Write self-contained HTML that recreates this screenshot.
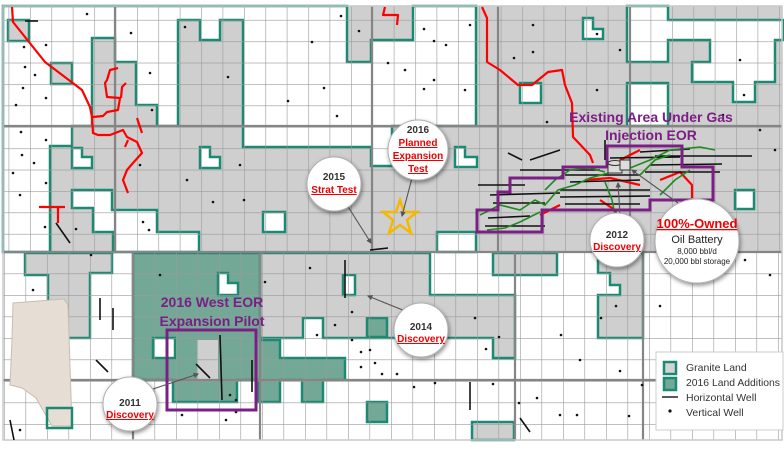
<!DOCTYPE html>
<html><head><meta charset="utf-8">
<style>
html,body{margin:0;padding:0;background:#fff;}
svg{display:block;}
text{font-family:"Liberation Sans",sans-serif;}
</style></head><body>
<svg width="784" height="457" viewBox="0 0 784 457" xmlns="http://www.w3.org/2000/svg">
<defs>
<pattern id="gt" x="8.6" y="-1.5" width="21.4" height="21.4" patternUnits="userSpaceOnUse">
<path d="M0 0V21.4M0 0H21.4" stroke="#9a9a9a" stroke-width="1.2" fill="none"/></pattern>
<pattern id="gb" x="4" y="252" width="21.5" height="21.5" patternUnits="userSpaceOnUse">
<path d="M0 0V21.5M0 0H21.5" stroke="#9a9a9a" stroke-width="1.2" fill="none"/></pattern>
<filter id="sh" x="-30%" y="-30%" width="160%" height="160%"><feDropShadow dx="1" dy="2" stdDeviation="2" flood-color="#000" flood-opacity="0.45"/></filter>
<marker id="ar" viewBox="0 0 10 10" refX="8" refY="5" markerWidth="5" markerHeight="5" orient="auto"><path d="M0 0L10 5L0 10z" fill="#555"/></marker>
</defs>
<rect width="784" height="457" fill="#fff"/>
<rect x="3" y="6" width="779" height="246" fill="#cfcfcf"/>
<g fill="#fff" stroke="#1c8a72" stroke-width="2.5" stroke-linejoin="miter">
<polygon points="3,6 347,6 347,62 371,62 371,40 413,40 413,6 476,6 476,126 392,126 392,166 371,166 371,147 243,147 243,20 220,20 220,40 200,40 200,20 178,20 178,126 157,126 157,105 136,105 136,62 115,62 115,38 92,38 92,126 72,126 72,146 50,146 50,252 3,252"/>
<polygon points="72,148 82,148 82,157 92,157 92,168 72,168"/>
<polygon points="200,147 210,147 210,157 220,157 220,168 200,168"/>
<polygon points="72,190 112,190 112,210 157,210 157,232 199,232 199,252 113,252 113,232 93,232 93,208 72,208"/>
<rect x="263" y="212" width="22" height="20"/>
<polygon points="455,147 465,147 465,157 477,157 477,167 455,167"/>
<rect x="437" y="232" width="39" height="20"/>
<polygon points="583,18 593,18 593,29 603,29 603,39 583,39"/>
<rect x="520" y="83" width="21" height="20"/>
<polygon points="627,6 668,6 668,20 784,20 784,40 775,40 775,82 755,82 755,102 733,102 733,82 692,82 692,62 710,62 710,40 668,40 668,62 627,62"/>
<rect x="627" y="83" width="41" height="43"/>
<rect x="735" y="190" width="19" height="19"/>
</g>
<g fill="#cfcfcf" stroke="#1c8a72" stroke-width="2.5">
<rect x="8" y="20" width="21" height="21"/>
<rect x="51" y="63" width="21" height="21"/>
</g>
<g fill="#cfcfcf" stroke="#1c8a72" stroke-width="2.5">
<polygon points="25,253 112,253 112,273 90,273 90,338 48,338 48,275 25,275"/>
<polygon points="260,253 430,253 430,295 515,295 515,358 493,358 493,338 323,338 323,318 303,318 303,338 260,338"/>
<rect x="493" y="253" width="64" height="22"/>
<polygon points="598,253 643,253 643,338 598,338 598,295 620,295 620,285 610,285 610,273 598,273"/>
<rect x="472" y="422" width="42" height="18"/>
</g>
<rect x="343" y="275" width="12" height="20" fill="#fff" stroke="#1c8a72" stroke-width="2.5"/>
<g fill="#74a896" stroke="#1c8a72" stroke-width="2.5">
<polygon points="133,253 260,253 260,340 280,340 280,358 345,358 345,380 323,380 323,402 302,402 302,380 280,380 280,402 258,402 258,380 237,380 237,402 173,402 173,380 133,380"/>
<rect x="367" y="318" width="20" height="19"/>
<rect x="367" y="402" width="20" height="20"/>
</g>
<polygon points="218,273 228,273 228,283 238,283 238,295 218,295" fill="#fff" stroke="#1c8a72" stroke-width="2.5"/>
<rect x="153" y="338" width="22" height="20" fill="#fff" stroke="#1c8a72" stroke-width="2.5"/>
<rect x="197" y="340" width="21" height="40" fill="#cfcfcf"/>
<rect x="3" y="6" width="779" height="246" fill="url(#gt)"/>
<rect x="3" y="252" width="779" height="188" fill="url(#gb)"/>
<g stroke="#858585" stroke-width="2.2">
<line x1="3" y1="126" x2="782" y2="126"/><line x1="3" y1="252" x2="782" y2="252"/>
<line x1="115" y1="6" x2="115" y2="252"/><line x1="372" y1="6" x2="372" y2="252"/><line x1="498" y1="6" x2="498" y2="252"/><line x1="630" y1="6" x2="630" y2="252"/>
<line x1="3" y1="380" x2="782" y2="380"/><line x1="133" y1="252" x2="133" y2="440"/><line x1="260" y1="252" x2="260" y2="440"/><line x1="515" y1="252" x2="515" y2="440"/><line x1="643" y1="252" x2="643" y2="440"/>
</g>
<rect x="3" y="6" width="779" height="434" fill="none" stroke="#c8c8c8" stroke-width="1.5"/>
<polygon points="13,303 64,299 68,305 72,426 52,426 36,398 22,388 10,385 12,340" fill="#e6ddd5" stroke="#c9bcb0" stroke-width="1"/>
<rect x="47" y="408" width="25" height="20" fill="none" stroke="#1c8a72" stroke-width="2.5"/>
<g fill="none" stroke="#f00" stroke-width="2.2" stroke-linejoin="round">
<polyline points="12,7 13,22 45,62 82,90 90,107 92,117 93,133 98,135 110,135 123,130 127,137 137,142 142,153 133,163 127,170 123,180 128,193"/>
<polyline points="93,117 103,116 107,112 118,110 120,98 107,97 105,83 107,80 110,70 118,68"/>
<polyline points="121,98 122,87 126,83"/>
<polyline points="137,118 142,133"/>
<polyline points="128,140 125,147"/>
<polyline points="39,207 65,207"/><polyline points="58,207 58,223"/>
<polyline points="385,7 383,15 398,15 397,25"/>
<polyline points="482,7 487,18 487,62 500,70 518,85 532,85 548,72 562,70 565,85 572,103 573,137 590,155 593,163"/>
<polyline points="585,180 610,178 640,185"/><polyline points="600,200 615,210 620,225"/>
<polyline points="660,180 680,172 692,185 692,198"/><polyline points="540,215 560,205"/><polyline points="620,160 640,150"/>
<polyline points="625,215 630,240"/>
</g>
<g stroke="#111" stroke-width="1.6" fill="none">
<line x1="56" y1="223" x2="70" y2="243"/>
<line x1="25" y1="21" x2="38" y2="21"/>
<line x1="478" y1="185" x2="525" y2="185"/><line x1="490" y1="195" x2="560" y2="193"/><line x1="493" y1="203" x2="545" y2="203"/>
<line x1="488" y1="218" x2="530" y2="216"/><line x1="485" y1="226" x2="545" y2="226"/>
<line x1="520" y1="170" x2="600" y2="170"/><line x1="565" y1="175" x2="640" y2="175"/><line x1="570" y1="182" x2="640" y2="180"/>
<line x1="560" y1="190" x2="650" y2="190"/><line x1="560" y1="197" x2="650" y2="196"/><line x1="565" y1="204" x2="640" y2="204"/>
<line x1="610" y1="158" x2="680" y2="157"/><line x1="640" y1="152" x2="690" y2="149"/><line x1="655" y1="156" x2="752" y2="156"/>
<line x1="650" y1="165" x2="722" y2="164"/><line x1="645" y1="172" x2="720" y2="172"/><line x1="605" y1="140" x2="605" y2="160"/>
<line x1="530" y1="160" x2="560" y2="150"/><line x1="508" y1="153" x2="522" y2="160"/>
<line x1="345" y1="260" x2="345" y2="298"/><line x1="370" y1="250" x2="388" y2="248"/>
<line x1="220" y1="335" x2="222" y2="400"/><line x1="196" y1="364" x2="210" y2="378"/>
<line x1="252" y1="360" x2="252" y2="392"/><line x1="100" y1="298" x2="100" y2="320"/><line x1="113" y1="308" x2="113" y2="330"/>
<line x1="96" y1="360" x2="108" y2="372"/><line x1="470" y1="382" x2="470" y2="410"/><line x1="10" y1="420" x2="14" y2="440"/>
<line x1="520" y1="418" x2="530" y2="432"/>
</g>
<g fill="#111">
<circle cx="87" cy="14" r="1.3"/><circle cx="24" cy="47" r="1.3"/><circle cx="46" cy="45" r="1.3"/><circle cx="25" cy="67" r="1.3"/><circle cx="35" cy="75" r="1.3"/><circle cx="46" cy="98" r="1.3"/><circle cx="16" cy="105" r="1.3"/><circle cx="23" cy="88" r="1.3"/><circle cx="21" cy="132" r="1.3"/><circle cx="46" cy="140" r="1.3"/><circle cx="22" cy="155" r="1.3"/><circle cx="34" cy="163" r="1.3"/><circle cx="13" cy="173" r="1.3"/><circle cx="46" cy="183" r="1.3"/><circle cx="20" cy="195" r="1.3"/><circle cx="45" cy="227" r="1.3"/>
<circle cx="131" cy="33" r="1.3"/><circle cx="150" cy="73" r="1.3"/><circle cx="140" cy="165" r="1.3"/><circle cx="187" cy="180" r="1.3"/><circle cx="213" cy="202" r="1.3"/><circle cx="152" cy="110" r="1.3"/><circle cx="76" cy="229" r="1.3"/><circle cx="143" cy="222" r="1.3"/><circle cx="149" cy="230" r="1.3"/><circle cx="185" cy="27" r="1.3"/><circle cx="228" cy="77" r="1.3"/><circle cx="240" cy="165" r="1.3"/><circle cx="244" cy="200" r="1.3"/>
<circle cx="341" cy="16" r="1.3"/><circle cx="312" cy="42" r="1.3"/><circle cx="288" cy="101" r="1.3"/><circle cx="324" cy="88" r="1.3"/><circle cx="337" cy="116" r="1.3"/><circle cx="359" cy="31" r="1.3"/><circle cx="388" cy="63" r="1.3"/><circle cx="405" cy="70" r="1.3"/><circle cx="434" cy="80" r="1.3"/><circle cx="424" cy="89" r="1.3"/><circle cx="434" cy="41" r="1.3"/><circle cx="446" cy="45" r="1.3"/><circle cx="470" cy="25" r="1.3"/><circle cx="465" cy="90" r="1.3"/><circle cx="424" cy="29" r="1.3"/>
<circle cx="533" cy="25" r="1.3"/><circle cx="533" cy="52" r="1.3"/><circle cx="514" cy="58" r="1.3"/><circle cx="597" cy="34" r="1.3"/><circle cx="620" cy="50" r="1.3"/><circle cx="597" cy="90" r="1.3"/><circle cx="547" cy="122" r="1.3"/><circle cx="744" cy="95" r="1.3"/><circle cx="740" cy="60" r="1.3"/><circle cx="723" cy="115" r="1.3"/><circle cx="760" cy="130" r="1.3"/><circle cx="775" cy="150" r="1.3"/><circle cx="745" cy="260" r="1.3"/><circle cx="770" cy="275" r="1.3"/>
<circle cx="310" cy="268" r="1.3"/><circle cx="352" cy="312" r="1.3"/><circle cx="335" cy="325" r="1.3"/><circle cx="317" cy="335" r="1.3"/><circle cx="352" cy="340" r="1.3"/><circle cx="361" cy="352" r="1.3"/><circle cx="370" cy="350" r="1.3"/><circle cx="375" cy="363" r="1.3"/><circle cx="382" cy="374" r="1.3"/><circle cx="361" cy="367" r="1.3"/><circle cx="397" cy="374" r="1.3"/><circle cx="414" cy="387" r="1.3"/><circle cx="435" cy="383" r="1.3"/><circle cx="475" cy="318" r="1.3"/><circle cx="486" cy="349" r="1.3"/><circle cx="493" cy="384" r="1.3"/><circle cx="519" cy="403" r="1.3"/><circle cx="537" cy="398" r="1.3"/><circle cx="560" cy="415" r="1.3"/><circle cx="577" cy="415" r="1.3"/><circle cx="580" cy="360" r="1.3"/><circle cx="620" cy="371" r="1.3"/><circle cx="616" cy="306" r="1.3"/><circle cx="642" cy="385" r="1.3"/><circle cx="629" cy="416" r="1.3"/><circle cx="561" cy="335" r="1.3"/><circle cx="499" cy="337" r="1.3"/><circle cx="601" cy="318" r="1.3"/><circle cx="660" cy="306" r="1.3"/>
<circle cx="160" cy="275" r="1.3"/><circle cx="91" cy="255" r="1.3"/><circle cx="33" cy="290" r="1.3"/><circle cx="20" cy="430" r="1.3"/><circle cx="182" cy="415" r="1.3"/><circle cx="226" cy="420" r="1.3"/><circle cx="236" cy="400" r="1.3"/><circle cx="265" cy="282" r="1.3"/><circle cx="230" cy="395" r="1.3"/><circle cx="236" cy="412" r="1.3"/>
</g>
<g stroke="#1f8a1f" stroke-width="1.6" fill="none">
<polyline points="480,215 500,205 520,210 535,200 545,205 558,190 575,185 590,178 612,172 630,168 650,160 670,150 700,147 715,150"/>
<polyline points="487,230 505,228 520,222 540,212"/>
<polyline points="545,190 555,180 570,170 590,168 605,172"/>
<polyline points="605,182 612,200 615,215 617,225"/>
<polyline points="640,175 655,160 670,155"/>
<polyline points="660,195 675,180 690,170"/>
</g>
<g fill="none" stroke="#7b1f84" stroke-width="3">
<polygon points="607,146 682,146 682,167 713,167 713,200 650,200 650,210 542,210 542,232 477,232 477,210 498,210 498,192 510,192 510,178 563,178 563,167 607,167"/>
<rect x="167" y="330" width="89" height="80"/>
</g>
<g fill="#ddd" stroke="#333" stroke-width="1"><rect x="608" y="163" width="14" height="10"/><ellipse cx="615" cy="163" rx="7" ry="2.5"/><rect x="620" y="160" width="10" height="10"/></g>
<polygon points="400,200 404,212 417,212 407,220 411,233 400,225 389,233 393,220 383,212 396,212" fill="none" stroke="#f5b800" stroke-width="2.5"/>
<g stroke="#555" stroke-width="1.1" fill="none" marker-end="url(#ar)">
<line x1="347" y1="205" x2="371" y2="243"/><line x1="412" y1="178" x2="402" y2="216"/>
<line x1="410" y1="313" x2="368" y2="296"/><line x1="150" y1="390" x2="198" y2="374"/>
<line x1="678" y1="203" x2="632" y2="170"/><line x1="620" y1="215" x2="618" y2="183"/>
</g>
<g fill="#fff" stroke="#b0b0b0" stroke-width="1" filter="url(#sh)">
<circle cx="334" cy="184" r="27"/><circle cx="418" cy="150" r="30"/><circle cx="617" cy="240" r="27"/><circle cx="697" cy="241" r="42"/><circle cx="421" cy="330" r="27"/><circle cx="130" cy="404" r="27"/>
</g>
<g text-anchor="middle" font-weight="bold" font-size="10" fill="#333">
<text x="334" y="180">2015</text><text x="334" y="193" fill="#e00" text-decoration="underline">Strat Test</text>
<text x="418" y="133">2016</text><text x="418" y="146" fill="#e00" text-decoration="underline">Planned</text><text x="418" y="159" fill="#e00" text-decoration="underline">Expansion</text><text x="418" y="172" fill="#e00" text-decoration="underline">Test</text>
<text x="617" y="238">2012</text><text x="617" y="250" fill="#e00" text-decoration="underline">Discovery</text>
<text x="421" y="330">2014</text><text x="421" y="342" fill="#e00" text-decoration="underline">Discovery</text>
<text x="130" y="406">2011</text><text x="130" y="418" fill="#e00" text-decoration="underline">Discovery</text>
</g>
<g text-anchor="middle" fill="#222">
<text x="697" y="228" font-size="13" font-weight="bold" fill="#e00" text-decoration="underline">100%-Owned</text>
<text x="697" y="243" font-size="11">Oil Battery</text>
<text x="697" y="254" font-size="8">8,000 bbl/d</text>
<text x="697" y="264" font-size="8">20,000 bbl storage</text>
</g>
<g fill="#7b1f84" font-size="14" font-weight="bold" text-anchor="middle">
<text x="651" y="122">Existing Area Under Gas</text>
<text x="651" y="140">Injection EOR</text>
<text x="212" y="307">2016 West EOR</text>
<text x="212" y="326">Expansion Pilot</text>
</g>
<rect x="656" y="352" width="127" height="78" fill="#fff" stroke="#ccc" stroke-width="1"/>
<rect x="664" y="362" width="12" height="12" fill="#d4d4d4" stroke="#1c8a72" stroke-width="2.5"/>
<rect x="664" y="378" width="12" height="12" fill="#74a896" stroke="#1c8a72" stroke-width="2.5"/>
<line x1="662" y1="397" x2="678" y2="397" stroke="#222" stroke-width="1.5"/>
<circle cx="670" cy="411" r="1.6" fill="#111"/>
<g font-size="10.5" fill="#333"><text x="686" y="371">Granite Land</text><text x="686" y="386" textLength="94" lengthAdjust="spacingAndGlyphs">2016 Land Additions</text><text x="686" y="401">Horizontal Well</text><text x="686" y="416">Vertical Well</text></g>
</svg>
</body></html>
